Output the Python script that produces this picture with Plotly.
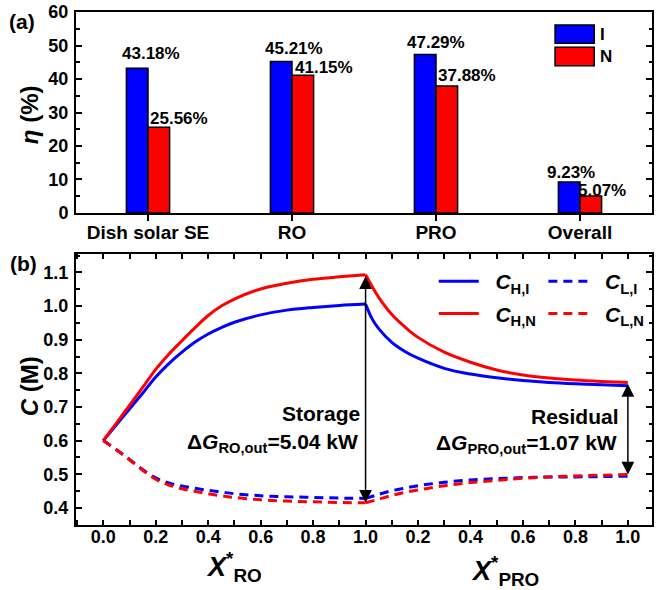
import plotly.graph_objects as go

# ---------------- data: panel (a) ----------------
categories = ["Dish solar SE", "RO", "PRO", "Overall"]
eta_I = [43.18, 45.21, 47.29, 9.23]
eta_N = [25.56, 41.15, 37.88, 5.07]

# ---------------- data: panel (b) ----------------
x_ro = [0.0, 0.05, 0.1, 0.15, 0.2, 0.25, 0.3, 0.35, 0.4, 0.45, 0.5, 0.6, 0.7, 0.8, 0.9, 1.0]
CH_I_ro = [0.600, 0.647, 0.694, 0.741, 0.789, 0.829, 0.863, 0.893, 0.917, 0.936, 0.952, 0.974, 0.988, 0.996, 1.002, 1.006]
CH_N_ro = [0.600, 0.652, 0.705, 0.758, 0.812, 0.857, 0.897, 0.936, 0.972, 1.000, 1.021, 1.051, 1.068, 1.080, 1.087, 1.093]
CL_I_ro = [0.600, 0.573, 0.544, 0.514, 0.489, 0.474, 0.465, 0.458, 0.452, 0.447, 0.442, 0.436, 0.433, 0.431, 0.429, 0.428]
CL_N_ro = [0.600, 0.573, 0.543, 0.512, 0.485, 0.468, 0.457, 0.449, 0.442, 0.436, 0.431, 0.424, 0.420, 0.418, 0.416, 0.415]

x_pro_H = [0.0, 0.025, 0.05, 0.1, 0.15, 0.2, 0.3, 0.4, 0.5, 0.6, 0.7, 0.8, 0.9, 1.0]
CH_I_pro = [1.006, 0.962, 0.933, 0.892, 0.865, 0.845, 0.815, 0.798, 0.787, 0.779, 0.773, 0.769, 0.766, 0.763]
CH_N_pro = [1.093, 1.058, 1.026, 0.975, 0.938, 0.907, 0.863, 0.833, 0.810, 0.795, 0.786, 0.780, 0.776, 0.773]

x_pro_L = [0.0, 0.05, 0.1, 0.15, 0.2, 0.3, 0.4, 0.5, 0.6, 0.7, 0.8, 0.9, 1.0]
CL_I_pro = [0.428, 0.440, 0.451, 0.459, 0.466, 0.476, 0.483, 0.487, 0.490, 0.492, 0.492, 0.493, 0.494]
CL_N_pro = [0.415, 0.426, 0.437, 0.446, 0.453, 0.466, 0.475, 0.482, 0.488, 0.492, 0.495, 0.497, 0.499]

x_tick_labels = ["0.0", "0.2", "0.4", "0.6", "0.8", "1.0", "0.2", "0.4", "0.6", "0.8", "1.0"]
storage_kW = 5.04
residual_kW = 1.07

# ---------------- styles ----------------
BLUE = "#0000FF"
RED = "#FF0000"
FONT = "Liberation Sans, Arial, sans-serif"
# label offsets (pixels) for the percentage labels
lab_dx_I = [3, 2, 0, -9]
lab_dy_I = [15, 13, 12, 10]
lab_dx_N = [31, 32, 31, 22]
lab_dy_N = [9, 8, 11, 6]

fig = go.Figure()

fig.add_trace(go.Bar(x=categories, y=eta_I, name="I", marker=dict(color=BLUE, line=dict(color="black", width=1.5)),
                     xaxis="x", yaxis="y", showlegend=False))
fig.add_trace(go.Bar(x=categories, y=eta_N, name="N", marker=dict(color=RED, line=dict(color="black", width=1.5)),
                     xaxis="x", yaxis="y", showlegend=False))

x_pro_H_shift = [1.0 + v for v in x_pro_H]
x_pro_L_shift = [1.0 + v for v in x_pro_L]


def add_curve(xs1, ys1, xs2, ys2, color, dash, name, legend):
    line = dict(color=color, width=3, dash=dash)
    fig.add_trace(go.Scatter(x=xs1, y=ys1, mode="lines", line=line, line_shape="spline",
                             name=name, legend=legend, legendgroup=name,
                             xaxis="x2", yaxis="y2"))
    fig.add_trace(go.Scatter(x=xs2, y=ys2, mode="lines", line=line, line_shape="spline",
                             name=name, legendgroup=name, showlegend=False,
                             xaxis="x2", yaxis="y2"))


DASH = "9px,6px"
PAD = "\u00a0\u00a0"
add_curve(x_ro, CH_I_ro, x_pro_H_shift, CH_I_pro, BLUE, "solid", PAD + "<i>C</i><sub>H,I</sub>", "legend")
add_curve(x_ro, CH_N_ro, x_pro_H_shift, CH_N_pro, RED, "solid", PAD + "<i>C</i><sub>H,N</sub>", "legend")
add_curve(x_ro, CL_I_ro, x_pro_L_shift, CL_I_pro, BLUE, DASH, PAD + "<i>C</i><sub>L,I</sub>", "legend2")
add_curve(x_ro, CL_N_ro, x_pro_L_shift, CL_N_pro, RED, DASH, PAD + "<i>C</i><sub>L,N</sub>", "legend2")

annotations = []
shapes = []

# percentage labels on bars
for i, c in enumerate(categories):
    annotations.append(dict(x=i - 0.075, y=eta_I[i], xref="x", yref="y", text=f"{eta_I[i]:.2f}%",
                            showarrow=False, xanchor="center", yanchor="middle",
                            xshift=lab_dx_I[i] + 10.8, yshift=lab_dy_I[i], font=dict(size=17)))
    annotations.append(dict(x=i + 0.075, y=eta_N[i], xref="x", yref="y", text=f"{eta_N[i]:.2f}%",
                            showarrow=False, xanchor="center", yanchor="middle",
                            xshift=lab_dx_N[i] - 10.8, yshift=lab_dy_N[i], font=dict(size=17)))

# custom legend for bars (panel a)
for (y0, y1, col, lab) in [(0.844, 0.935, BLUE, "I"), (0.733, 0.824, RED, "N")]:
    shapes.append(dict(type="rect", xref="x domain", yref="y domain", x0=0.8317, x1=0.8997, y0=y0, y1=y1,
                       fillcolor=col, line=dict(color="black", width=1.5)))
    annotations.append(dict(x=0.907, y=(y0 + y1) / 2, xref="x domain", yref="y domain", text=lab,
                            showarrow=False, xanchor="left", yanchor="middle", font=dict(size=17)))

# double-headed arrows in panel b
for xa, ylo, yhi in [(1.0, CL_N_ro[-1], CH_N_ro[-1]), (2.0, CL_N_pro[-1], CH_N_pro[-1])]:
    annotations.append(dict(x=xa, y=ylo, ax=xa, ay=yhi, xref="x2", yref="y2", axref="x2", ayref="y2",
                            text="", showarrow=True, arrowside="end+start", arrowhead=2, arrowsize=1.7,
                            arrowwidth=1.5, arrowcolor="black", standoff=0, startstandoff=0))


def pax(px):
    return (px - 76) / 578


def pay(py):
    return (525 - py) / 513


annotations += [
    dict(x=1.0, y=0.681, xref="x2", yref="y2", text="Storage", showarrow=False, xanchor="right",
         yanchor="middle", xshift=-4, font=dict(size=21)),
    dict(x=1.0, y=0.592, xref="x2", yref="y2",
         text=f"Δ<i>G</i><sub>RO,out</sub>={storage_kW:.2f} kW", showarrow=False, xanchor="right",
         yanchor="middle", xshift=-6, font=dict(size=21)),
    dict(x=2.0, y=0.672, xref="x2", yref="y2", text="Residual", showarrow=False, xanchor="right",
         yanchor="middle", xshift=-7, font=dict(size=21)),
    dict(x=2.0, y=0.589, xref="x2", yref="y2",
         text=f"Δ<i>G</i><sub>PRO,out</sub>={residual_kW:.2f} kW", showarrow=False, xanchor="right",
         yanchor="middle", xshift=-9, font=dict(size=21)),
    # x titles
    dict(x=0.5, y=pay(567), xref="x2", yref="paper", text="<i>X</i><sup>*</sup><sub>RO</sub>",
         showarrow=False, font=dict(size=27), xanchor="center", yanchor="middle"),
    dict(x=1.53, y=pay(571), xref="x2", yref="paper", text="<i>X</i><sup>*</sup><sub>PRO</sub>",
         showarrow=False, font=dict(size=27), xanchor="center", yanchor="middle"),
    # y titles
    dict(x=pax(29), y=pay(115), xref="paper", yref="paper", text="<i>η</i> (%)", textangle=-90,
         showarrow=False, font=dict(size=24), xanchor="center", yanchor="middle"),
    dict(x=pax(29), y=pay(386), xref="paper", yref="paper", text="<i>C</i> (M)", textangle=-90,
         showarrow=False, font=dict(size=24), xanchor="center", yanchor="middle"),
    # panel labels
    dict(x=pax(22), y=pay(21), xref="paper", yref="paper", text="(a)", showarrow=False,
         font=dict(size=21), xanchor="center", yanchor="middle"),
    dict(x=pax(23), y=pay(263), xref="paper", yref="paper", text="(b)", showarrow=False,
         font=dict(size=21), xanchor="center", yanchor="middle"),
]

axis_common = dict(showline=True, linewidth=2, linecolor="black", showgrid=False, zeroline=False,
                   tickcolor="black", tickwidth=2)

fig.update_layout(
    width=656, height=590, autosize=False,
    margin=dict(l=76, r=2, t=12, b=65),
    paper_bgcolor="white", plot_bgcolor="white",
    font=dict(family=FONT, size=18, color="black", weight="bold"),
    barmode="group", bargap=0.7, bargroupgap=0,
    xaxis=dict(domain=[0, 1], anchor="y", type="category", range=[-0.5, 3.5], mirror=True,
               ticks="outside", ticklen=6, tickfont=dict(size=19), ticklabelstandoff=-5, **axis_common),
    yaxis=dict(domain=[0.6082, 1.0], anchor="x", range=[0, 60], dtick=10, tick0=0, mirror="ticks",
               ticks="inside", ticklen=6, ticklabelstandoff=2,
               minor=dict(dtick=5, ticks="inside", ticklen=3.5, tickwidth=2, tickcolor="black"),
               **axis_common),
    xaxis2=dict(domain=[0, 1], anchor="y2", range=[-0.104, 2.092], mirror="ticks",
                tickvals=[i * 0.2 for i in range(len(x_tick_labels))], ticktext=x_tick_labels,
                ticks="inside", ticklen=5, ticklabelstandoff=-6,
                minor=dict(dtick=0.1, tick0=0, ticks="inside", ticklen=5, tickwidth=2, tickcolor="black"),
                **axis_common),
    yaxis2=dict(domain=[0, 0.5283], anchor="x2", range=[0.349, 1.155], dtick=0.1, tick0=0.4, mirror="ticks",
                ticks="inside", ticklen=6, tickformat=".1f", ticklabelstandoff=2,
                minor=dict(dtick=0.05, ticks="inside", ticklen=3.5, tickwidth=2, tickcolor="black"),
                **axis_common),
    legend=dict(x=pax(435), y=pay(261), xanchor="left", yanchor="top", orientation="v",
                font=dict(size=21), bgcolor="rgba(0,0,0,0)", tracegroupgap=2, itemwidth=40),
    legend2=dict(x=pax(545), y=pay(261), xanchor="left", yanchor="top", orientation="v",
                 font=dict(size=21), bgcolor="rgba(0,0,0,0)", tracegroupgap=2, itemwidth=40),
    annotations=annotations,
    shapes=shapes,
)

fig.write_html("out.html")
